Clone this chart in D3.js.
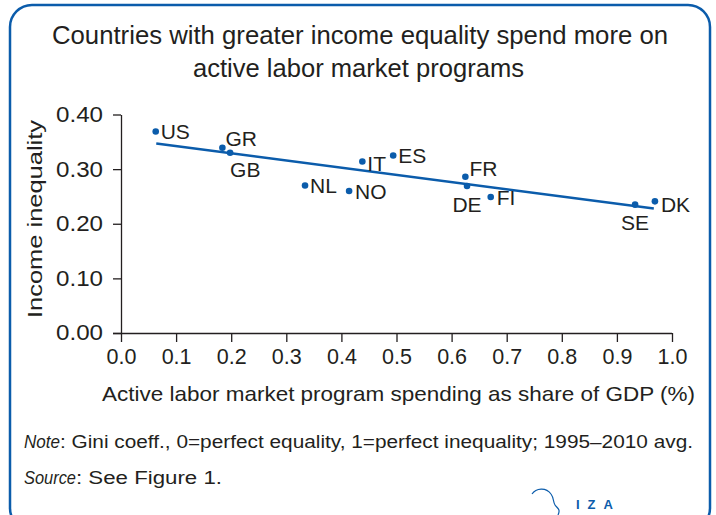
<!DOCTYPE html>
<html>
<head>
<meta charset="utf-8">
<script src="https://cdn.jsdelivr.net/npm/d3@7"></script>
<style>
  body { margin: 0; background: #fff; }
  text { font-family: "Liberation Sans", Arial, sans-serif; fill: #231f20; }
</style>
</head>
<body>
<svg id="chart" width="716" height="515"></svg>
<script>
// data
var countries = ["US", "GR", "GB", "NL", "NO", "IT", "ES", "FR", "DE", "FI", "SE", "DK"];
var spending = [0.063, 0.184, 0.198, 0.334, 0.414, 0.438, 0.494, 0.625, 0.628, 0.671, 0.933, 0.969];
var inequality = [0.369, 0.339, 0.330, 0.270, 0.260, 0.314, 0.325, 0.286, 0.269, 0.249, 0.235, 0.241];
var trendX = [0.064, 0.967];
var trendY = [0.347, 0.228];
var xTicks = [0, 0.1, 0.2, 0.3, 0.4, 0.5, 0.6, 0.7, 0.8, 0.9, 1.0];
var yTicks = [0, 0.1, 0.2, 0.3, 0.4];

// where each label sits relative to its dot
var labelPos = {
  US: { dx: 5, dy: 0, anchor: "start" },
  GR: { dx: 3, dy: -9, anchor: "start" },
  GB: { dx: 0, dy: 17, anchor: "start" },
  NL: { dx: 5, dy: 0, anchor: "start" },
  NO: { dx: 6, dy: 1, anchor: "start" },
  IT: { dx: 5, dy: 2, anchor: "start" },
  ES: { dx: 5, dy: 0, anchor: "start" },
  FR: { dx: 4, dy: -8, anchor: "start" },
  DE: { dx: 0, dy: 18, anchor: "middle" },
  FI: { dx: 6, dy: 1, anchor: "start" },
  SE: { dx: 0, dy: 18, anchor: "middle" },
  DK: { dx: 6, dy: 3, anchor: "start" }
};

var blue = "#0b5cab";
var svg = d3.select("#chart");

// frame
svg.append("rect")
  .attr("x", 10).attr("y", 5)
  .attr("width", 700).attr("height", 525)
  .attr("rx", 22).attr("ry", 22)
  .attr("fill", "none")
  .attr("stroke", blue)
  .attr("stroke-width", 2.5);

// title (reference font is condensed, so squeeze to its width)
svg.append("text")
  .attr("x", 52).attr("y", 44)
  .attr("font-size", "26px")
  .attr("textLength", 616)
  .attr("lengthAdjust", "spacingAndGlyphs")
  .text("Countries with greater income equality spend more on");
svg.append("text")
  .attr("x", 193).attr("y", 77)
  .attr("font-size", "26px")
  .attr("textLength", 331)
  .attr("lengthAdjust", "spacingAndGlyphs")
  .text("active labor market programs");

var x = d3.scaleLinear().domain([0, 1]).range([121, 672]);
var y = d3.scaleLinear().domain([0, 0.4]).range([333, 114.5]);

var xAxis = svg.append("g")
  .attr("transform", "translate(0,333)")
  .call(d3.axisBottom(x).tickValues(xTicks).tickFormat(d3.format(".1f")).tickSizeInner(9).tickSizeOuter(0).tickPadding(7));
var yAxis = svg.append("g")
  .attr("transform", "translate(121,0)")
  .call(d3.axisLeft(y).tickValues(yTicks).tickFormat(d3.format(".2f")).tickSizeInner(8).tickSizeOuter(0).tickPadding(10));

[xAxis, yAxis].forEach(function (g) {
  g.selectAll("path, line").attr("stroke", "#231f20").attr("stroke-width", 1.3);
  g.selectAll("text").attr("font-size", "21.5px").attr("fill", "#231f20").attr("font-family", null);
});
yAxis.selectAll("text").attr("textLength", 47).attr("lengthAdjust", "spacingAndGlyphs");
// domain starts under the 0.00 tick
xAxis.select(".domain").attr("d", "M113,0.5H" + x(1));

// axis titles
svg.append("text")
  .attr("x", 102).attr("y", 401)
  .attr("font-size", "21px")
  .attr("textLength", 593)
  .attr("lengthAdjust", "spacingAndGlyphs")
  .text("Active labor market program spending as share of GDP (%)");
svg.append("text")
  .attr("transform", "translate(42,318) rotate(-90)")
  .attr("font-size", "21px")
  .attr("textLength", 198)
  .attr("lengthAdjust", "spacingAndGlyphs")
  .text("Income inequality");

// trend line
svg.append("line")
  .attr("x1", x(trendX[0])).attr("y1", y(trendY[0]))
  .attr("x2", x(trendX[1])).attr("y2", y(trendY[1]))
  .attr("stroke", blue)
  .attr("stroke-width", 2.5);

var points = countries.map(function (c, i) {
  return { name: c, sx: spending[i], iy: inequality[i] };
});

svg.selectAll(".dot")
  .data(points)
  .enter()
  .append("circle")
  .attr("class", "dot")
  .attr("cx", (d) => x(d.sx))
  .attr("cy", (d) => y(d.iy))
  .attr("r", 3.3)
  .attr("fill", blue);

svg.selectAll(".lbl")
  .data(points)
  .enter()
  .append("text")
  .attr("class", "lbl")
  .attr("x", (d) => x(d.sx) + labelPos[d.name].dx)
  .attr("y", (d) => y(d.iy) + labelPos[d.name].dy + 7.5)
  .attr("text-anchor", (d) => labelPos[d.name].anchor)
  .attr("font-size", "21px")
  .text((d) => d.name);

// note and source
var note = svg.append("text").attr("x", 24).attr("y", 448).attr("font-size", "17.5px");
note.append("tspan").attr("font-style", "italic")
  .attr("textLength", 36).attr("lengthAdjust", "spacingAndGlyphs").text("Note");
note.append("tspan")
  .attr("textLength", 633).attr("lengthAdjust", "spacingAndGlyphs")
  .text(": Gini coeff., 0=perfect equality, 1=perfect inequality; 1995\u20132010 avg.");
var src = svg.append("text").attr("x", 24).attr("y", 484).attr("font-size", "17.5px");
src.append("tspan").attr("font-style", "italic")
  .attr("textLength", 52).attr("lengthAdjust", "spacingAndGlyphs").text("Source");
src.append("tspan")
  .attr("textLength", 146).attr("lengthAdjust", "spacingAndGlyphs")
  .text(": See Figure 1.");

// IZA logo
svg.append("path")
  .attr("d", "M532,494 C536,488 546,487 551,494 C554,498 553,502 555,505 C557,508 561,509 558,515")
  .attr("fill", "none")
  .attr("stroke", blue)
  .attr("stroke-width", 1.2);
svg.append("text")
  .attr("x", 576).attr("y", 509)
  .attr("font-size", "13px")
  .attr("font-weight", "bold")
  .attr("letter-spacing", "8px")
  .style("fill", blue)
  .text("IZA");
</script>
</body>
</html>
